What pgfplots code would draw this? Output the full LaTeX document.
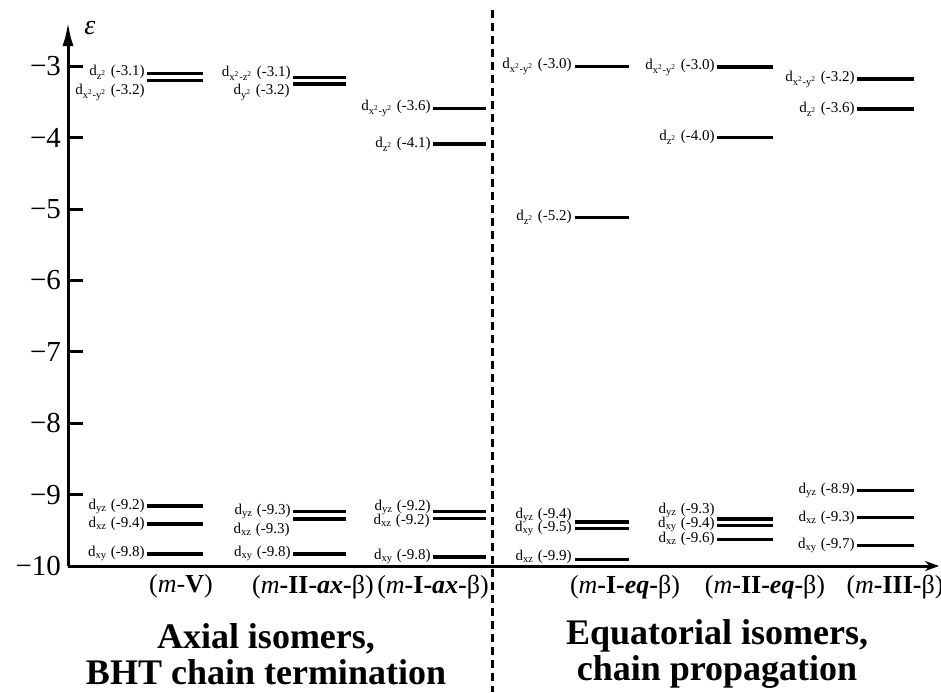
\documentclass[border=0pt]{standalone}
\usepackage{fontspec}
\setmainfont{Liberation Serif}
\usepackage{pgfplots}
\pgfplotsset{compat=1.18}
\usetikzlibrary{arrows.meta}

\newcommand{\dd}[1]{d\textsubscript{#1}}
\newcommand{\sq}{\textsuperscript{2}}
\newcommand{\lev}[3]{\addplot[lev] coordinates {(#1,#3) (#2,#3)};}
\tikzset{
  lev/.style={line width=1.65pt, black},
  lab/.style={anchor=east, inner sep=0pt, font=\fontsize{7.5}{8}\selectfont},
  cat/.style={font=\fontsize{13}{13}\selectfont},
  grp/.style={align=center, font=\fontsize{18}{18}\selectfont\bfseries},
}

\begin{document}
\begin{tikzpicture}
\begin{axis}[
  scale only axis, width=435.5pt, height=272pt,
  xmin=68, xmax=939, ymin=-10, ymax=-2.38,
  axis lines=left,
  x axis line style={line width=1.5pt, -{Stealth[length=7pt,width=5pt]}},
  y axis line style={line width=1.5pt, -{Latex[length=12pt,width=5.5pt]}},
  xtick=\empty,
  ytick={-10,-9,...,-3},
  yticklabels={−10,−9,−8,−7,−6,−5,−4,−3},
  tick align=inside,
  major tick length=7.5pt,
  every tick/.style={line width=1.5pt, black},
  yticklabel style={font=\fontsize{14.5}{14.5}\selectfont},
  clip=false,
  every axis plot/.append style={no marks},
]
% column 1 (m-V)
\lev{147}{203}{-3.105}
\lev{147}{203}{-3.195}
\lev{147}{203}{-9.16}
\lev{147}{203}{-9.41}
\lev{147}{203}{-9.83}
% column 2 (m-II-ax-beta)
\lev{293}{346}{-3.16}
\lev{293}{346}{-3.25}
\lev{293}{346}{-9.235}
\lev{293}{346}{-9.34}
\lev{293}{346}{-9.83}
% column 3 (m-I-ax-beta)
\lev{433}{486}{-3.59}
\lev{433}{486}{-4.09}
\lev{433}{486}{-9.235}
\lev{433}{486}{-9.338}
\lev{433}{486}{-9.874}
% column 4 (m-I-eq-beta)
\lev{575}{629}{-3.0}
\lev{575}{629}{-5.12}
\lev{575}{629}{-9.385}
\lev{575}{629}{-9.478}
\lev{575}{629}{-9.91}
% column 5 (m-II-eq-beta)
\lev{717}{773}{-3.01}
\lev{717}{773}{-4.0}
\lev{717}{773}{-9.343}
\lev{717}{773}{-9.436}
\lev{717}{773}{-9.627}
% column 6 (m-III-beta)
\lev{857}{914}{-3.18}
\lev{857}{914}{-3.6}
\lev{857}{914}{-8.94}
\lev{857}{914}{-9.32}
\lev{857}{914}{-9.71}

% labels column 1
\node[lab] at (axis cs:145,-3.09) {\dd{z\sq} (-3.1)};
\node[lab] at (axis cs:145,-3.36) {\dd{x\sq-y\sq} (-3.2)};
\node[lab] at (axis cs:145,-9.16) {\dd{yz} (-9.2)};
\node[lab] at (axis cs:145,-9.41) {\dd{xz} (-9.4)};
\node[lab] at (axis cs:145,-9.83) {\dd{xy} (-9.8)};
% labels column 2
\node[lab] at (axis cs:291,-3.10) {\dd{x\sq-z\sq} (-3.1)};
\node[lab] at (axis cs:290,-3.36) {\dd{y\sq} (-3.2)};
\node[lab] at (axis cs:291,-9.24) {\dd{yz} (-9.3)};
\node[lab] at (axis cs:290,-9.49) {\dd{xz} (-9.3)};
\node[lab] at (axis cs:291,-9.83) {\dd{xy} (-9.8)};
% labels column 3
\node[lab] at (axis cs:431,-3.59) {\dd{x\sq-y\sq} (-3.6)};
\node[lab] at (axis cs:431,-4.09) {\dd{z\sq} (-4.1)};
\node[lab] at (axis cs:431,-9.175) {\dd{yz} (-9.2)};
\node[lab] at (axis cs:430,-9.37) {\dd{xz} (-9.2)};
\node[lab] at (axis cs:431,-9.87) {\dd{xy} (-9.8)};
% labels column 4
\node[lab] at (axis cs:572,-3.0) {\dd{x\sq-y\sq} (-3.0)};
\node[lab] at (axis cs:572,-5.12) {\dd{z\sq} (-5.2)};
\node[lab] at (axis cs:572,-9.29) {\dd{yz} (-9.4)};
\node[lab] at (axis cs:572,-9.48) {\dd{xy} (-9.5)};
\node[lab] at (axis cs:572,-9.87) {\dd{xz} (-9.9)};
% labels column 5
\node[lab] at (axis cs:715,-3.01) {\dd{x\sq-y\sq} (-3.0)};
\node[lab] at (axis cs:715,-4.0) {\dd{z\sq} (-4.0)};
\node[lab] at (axis cs:715,-9.225) {\dd{yz} (-9.3)};
\node[lab] at (axis cs:715,-9.415) {\dd{xy} (-9.4)};
\node[lab] at (axis cs:715,-9.62) {\dd{xz} (-9.6)};
% labels column 6
\node[lab] at (axis cs:855,-3.18) {\dd{x\sq-y\sq} (-3.2)};
\node[lab] at (axis cs:855,-3.6) {\dd{z\sq} (-3.6)};
\node[lab] at (axis cs:855,-8.94) {\dd{yz} (-8.9)};
\node[lab] at (axis cs:855,-9.32) {\dd{xz} (-9.3)};
\node[lab] at (axis cs:855,-9.71) {\dd{xy} (-9.7)};

% category labels
\node[cat] at (axis cs:181,-10.29) {(\textit{m}-\textbf{V})};
\node[cat] at (axis cs:313,-10.29) {(\textit{m}\textbf{-II-\textit{ax}-}β)};
\node[cat] at (axis cs:433,-10.29) {(\textit{m}\textbf{-I-\textit{ax}-}β)};
\node[cat] at (axis cs:625,-10.29) {(\textit{m}\textbf{-I-\textit{eq}-}β)};
\node[cat] at (axis cs:765,-10.29) {(\textit{m}\textbf{-II-\textit{eq}-}β)};
\node[cat] at (axis cs:895,-10.29) {(\textit{m}\textbf{-III-}β)};

% group labels
\node[grp] at (axis cs:266,-11.23) {Axial isomers,\\BHT chain termination};
\node[grp] at (axis cs:717,-11.23) {Equatorial isomers,\\chain propagation};

% epsilon
\node[font=\fontsize{14}{14}\selectfont\itshape] at (axis cs:90,-2.47) {ε};

% separator
\draw[line width=1.5pt, dash pattern=on 4pt off 2.5pt] (axis cs:492,-2.216) -- (axis cs:492,-11.76);
\end{axis}
\pgfresetboundingbox
\useasboundingbox (-34pt,-63pt) rectangle (436.5pt,283pt);
\end{tikzpicture}
\end{document}
